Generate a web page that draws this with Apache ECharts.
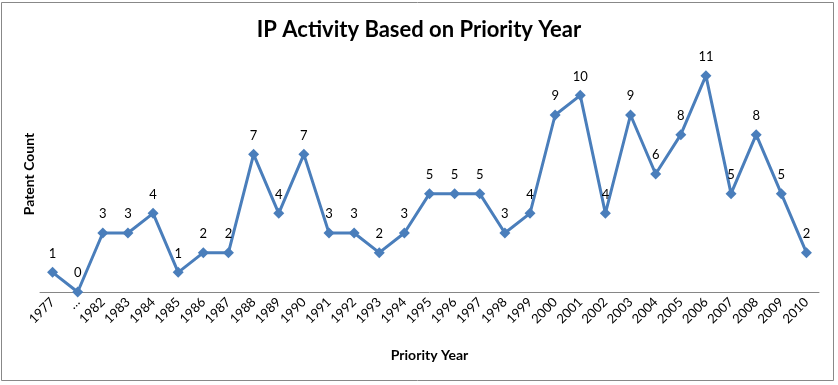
<!DOCTYPE html>
<html><head><meta charset="utf-8">
<script src="https://cdn.jsdelivr.net/npm/echarts@6/dist/echarts.min.js"></script>
<style>html,body{margin:0;padding:0;background:#fff}#c{width:838px;height:385px}</style>
</head><body><div id="c"></div>
<script>
const categories = ['1977','…','1982','1983','1984','1985','1986','1987','1988','1989','1990','1991','1992','1993','1994','1995','1996','1997','1998','1999','2000','2001','2002','2003','2004','2005','2006','2007','2008','2009','2010'];
const patentCounts = [1,0,3,3,4,1,2,2,7,4,7,3,3,2,3,5,5,5,3,4,9,10,4,9,6,8,11,5,8,5,2];
const titleText = 'IP Activity Based on Priority Year';
const xName = 'Priority Year';
const yName = 'Patent Count';

const chart = echarts.init(document.getElementById('c'));
chart.setOption({
  animation: false,
  backgroundColor: '#fff',
  title: {
    text: titleText, left: 'center', top: 14,
    textStyle: {fontFamily: 'Lato', fontWeight: 'bold', fontSize: 22, color: '#000'}
  },
  graphic: [{
    type: 'rect', shape: {x: 1.5, y: 2.5, width: 832, height: 378},
    style: {fill: 'none', stroke: '#888', lineWidth: 1}, silent: true
  }],
  grid: {left: 40, right: 19, top: 56, bottom: 93},
  xAxis: {
    type: 'category', data: categories, boundaryGap: true,
    name: xName, nameLocation: 'middle', nameGap: 56,
    nameTextStyle: {fontFamily: 'Lato', fontWeight: 'bold', fontSize: 14, color: '#000'},
    axisLine: {lineStyle: {color: '#868686', width: 1}},
    axisTick: {interval: 0, length: 5, lineStyle: {color: '#868686'}},
    axisLabel: {interval: 0, rotate: 45, fontFamily: 'Lato', fontSize: 13, color: '#000', margin: 8}
  },
  yAxis: {
    type: 'value', min: 0, max: 12, interval: 1,
    name: yName, nameLocation: 'middle', nameGap: 4,
    nameTextStyle: {fontFamily: 'Lato', fontWeight: 'bold', fontSize: 14, color: '#000'},
    axisLine: {show: false}, axisTick: {show: false}, axisLabel: {show: false},
    splitLine: {show: false}
  },
  series: [{
    type: 'line', data: patentCounts,
    symbol: 'diamond', symbolSize: 11,
    lineStyle: {color: '#4A7EBB', width: 3},
    itemStyle: {color: '#4A7EBB'},
    label: {show: true, position: 'top', distance: 7, fontFamily: 'Lato', fontSize: 13, color: '#000'}
  }]
});
</script></body></html>
